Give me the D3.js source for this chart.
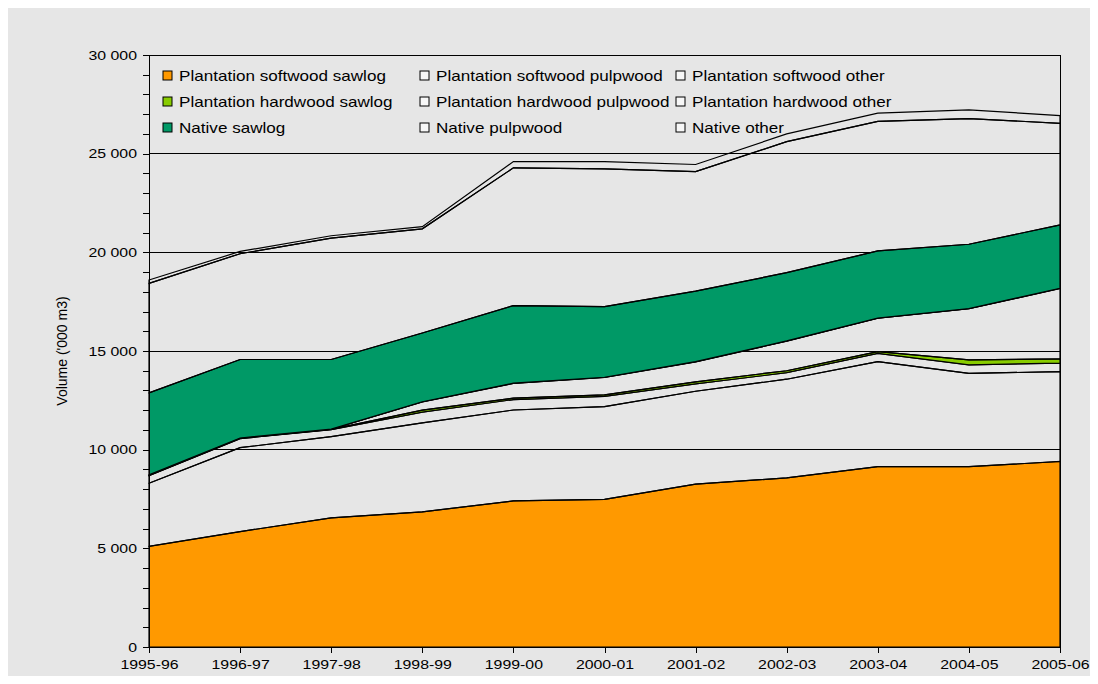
<!DOCTYPE html>
<html>
<head>
<meta charset="utf-8">
<script src="https://cdn.jsdelivr.net/npm/d3@7"></script>
<style>
  body { margin: 0; background: #ffffff; }
  text { font-family: "Liberation Sans", Arial, sans-serif; fill: #000; }
</style>
</head>
<body>
<div id="chart"></div>
<script>
// years on the x axis
const years = ["1995-96","1996-97","1997-98","1998-99","1999-00","2000-01","2001-02","2002-03","2003-04","2004-05","2005-06"];

// volumes ('000 m3)
const plantationSoftwoodSawlog   = [5100, 5850, 6540, 6850, 7400, 7480, 8250, 8570, 9140, 9140, 9400];
const plantationSoftwoodPulpwood = [3200, 4250, 4120, 4510, 4610, 4700, 4710, 5000, 5320, 4730, 4550];
const plantationSoftwoodOther    = [380, 460, 350, 540, 530, 520, 370, 330, 420, 430, 440];
const plantationHardwoodSawlog   = [20, 20, 20, 100, 70, 80, 110, 100, 90, 250, 210];
const plantationHardwoodPulpwood = [20, 10, 10, 420, 750, 880, 1010, 1500, 1690, 2590, 3570];
const plantationHardwoodOther    = [0, 0, 0, 10, 10, 10, 10, 10, 10, 10, 10];
const nativeSawlog               = [4160, 3980, 3530, 3480, 3930, 3580, 3570, 3460, 3400, 3260, 3210];
const nativePulpwood             = [5550, 5360, 6150, 5280, 6980, 6980, 6060, 6640, 6570, 6370, 5150];
const nativeOther                = [170, 115, 120, 110, 320, 370, 360, 390, 410, 440, 390];

const seriesNames = ["Plantation softwood sawlog","Plantation softwood pulpwood","Plantation softwood other",
                     "Plantation hardwood sawlog","Plantation hardwood pulpwood","Plantation hardwood other",
                     "Native sawlog","Native pulpwood","Native other"];
const seriesValues = [plantationSoftwoodSawlog, plantationSoftwoodPulpwood, plantationSoftwoodOther,
                      plantationHardwoodSawlog, plantationHardwoodPulpwood, plantationHardwoodOther,
                      nativeSawlog, nativePulpwood, nativeOther];
const seriesColors = ["#ff9900", "none", "none", "#88cc00", "none", "none", "#009966", "none", "none"];

const yMajorTicks = [0, 5000, 10000, 15000, 20000, 25000, 30000];
const yMinorTicks = d3.range(0, 30001, 1000);

const W = 1098, H = 684;
const plotLeft = 149, plotRight = 1060, plotTop = 55, plotBottom = 647;
const stretch = 1.22; // text in the picture is a bit wide

const svg = d3.select("#chart").append("svg")
  .attr("width", W)
  .attr("height", H);

svg.append("rect")
  .attr("x", 8).attr("y", 8)
  .attr("width", 1082).attr("height", 668)
  .attr("fill", "#e6e6e6");

const x = d3.scalePoint().domain(years).range([plotLeft, plotRight]);
const y = d3.scaleLinear().domain([0, 30000]).range([plotBottom, plotTop]);

const locale = d3.formatLocale({decimal: ".", thousands: " ", grouping: [3], currency: ["", ""]});
const fmt = locale.format(",");

// grid
svg.append("g")
  .selectAll("line")
  .data(yMajorTicks.filter(d => d > 0 && d < 30000))
  .join("line")
  .attr("x1", plotLeft).attr("x2", plotRight)
  .attr("y1", d => y(d)).attr("y2", d => y(d))
  .attr("stroke", "#000")
  .attr("stroke-width", 1)
  .attr("shape-rendering", "crispEdges");

// stacked areas
const table = years.map((yr, i) => {
  const row = {year: yr};
  seriesNames.forEach((n, k) => row[n] = seriesValues[k][i]);
  return row;
});
const stacked = d3.stack().keys(seriesNames)(table);

const area = d3.area()
  .x(d => x(d.data.year))
  .y0(d => y(d[0]))
  .y1(d => y(d[1]));

svg.append("g")
  .selectAll("path")
  .data(stacked)
  .join("path")
  .attr("d", area)
  .attr("fill", (d, i) => seriesColors[i])
  .attr("stroke", "#000")
  .attr("stroke-width", 1.2)
  .attr("stroke-linejoin", "miter");

// plot border (top, right)
svg.append("path")
  .attr("d", `M${plotLeft},${plotTop}H${plotRight}V${plotBottom}`)
  .attr("fill", "none")
  .attr("stroke", "#000")
  .attr("stroke-width", 1)
  .attr("shape-rendering", "crispEdges");

// y axis
const yAxis = d3.axisLeft(y)
  .tickValues(yMinorTicks)
  .tickSize(6)
  .tickSizeOuter(0)
  .tickPadding(6)
  .tickFormat(d => d % 5000 === 0 ? fmt(d) : "");
const yg = svg.append("g")
  .attr("transform", `translate(${plotLeft},0)`)
  .call(yAxis);
yg.selectAll("text")
  .attr("x", -12 / stretch)
  .attr("transform", `scale(${stretch},1)`)
  .style("font-size", "13px");

// x axis
const xAxis = d3.axisBottom(x)
  .tickSize(6)
  .tickSizeOuter(0)
  .tickPadding(7);
const xg = svg.append("g")
  .attr("transform", `translate(0,${plotBottom})`)
  .call(xAxis);
xg.selectAll("text")
  .attr("transform", `scale(${stretch},1)`)
  .style("font-size", "13px");

svg.selectAll(".domain, .tick line")
  .attr("stroke", "#000")
  .attr("shape-rendering", "crispEdges");

// axis title
svg.append("text")
  .attr("transform", "translate(67,351) rotate(-90)")
  .attr("text-anchor", "middle")
  .style("font-size", "14px")
  .text("Volume ('000 m3)");

// legend
const legendCols = [163, 420, 676];
const legendRows = [76, 102, 128];
const legend = svg.append("g")
  .selectAll("g")
  .data(seriesNames)
  .join("g")
  .attr("transform", (d, i) => `translate(${legendCols[i % 3]},${legendRows[Math.floor(i / 3)]})`);

legend.append("rect")
  .attr("x", 0).attr("y", -5)
  .attr("width", 9).attr("height", 9)
  .attr("fill", (d, i) => seriesColors[i] === "none" ? "#f7f7f7" : seriesColors[i])
  .attr("stroke", "#000")
  .attr("stroke-width", 1);

legend.append("text")
  .attr("transform", `translate(16,0) scale(${stretch},1)`)
  .attr("dy", "0.35em")
  .style("font-size", "14px")
  .text(d => d);
</script>
</body>
</html>
